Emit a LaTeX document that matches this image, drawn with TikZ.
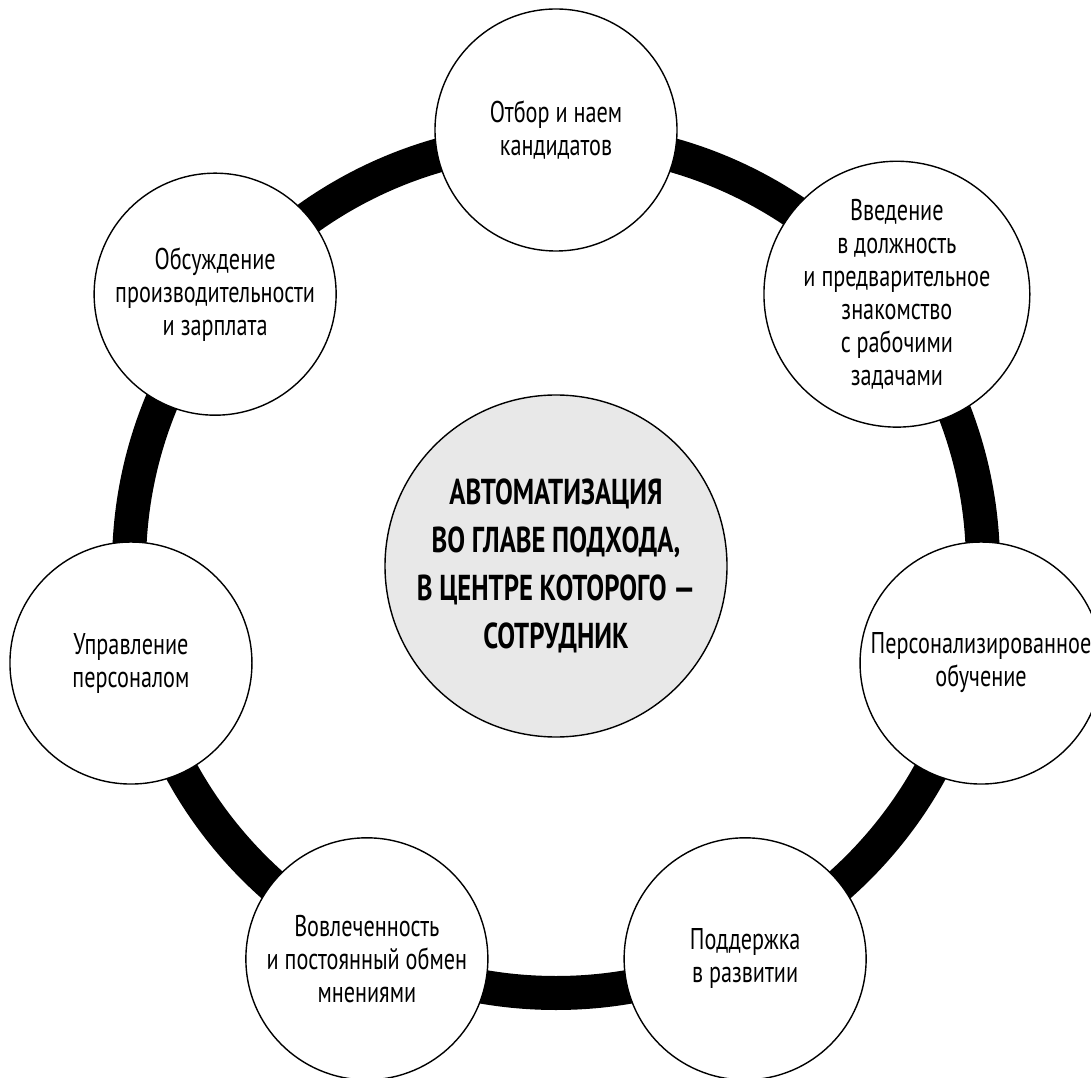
\documentclass[tikz,border=0pt]{standalone}
\usepackage{fontspec}
\setmainfont{PT Sans}[FakeStretch=0.74]
\usetikzlibrary{calc}
\definecolor{hubgray}{HTML}{E8E8E8}
\tikzset{
  stage/.style={circle, draw=black, line width=0.7pt, fill=white,
    minimum size=121pt, inner sep=0pt, align=center,
    font=\fontsize{15}{16.5}\selectfont},
  core/.style={circle, draw=black, line width=0.7pt, fill=hubgray,
    minimum size=171pt, inner sep=0pt, align=center,
    font=\bfseries\fontsize{18}{24}\selectfont},
  ring/.style={line width=17pt}
}

\begin{document}
\begin{tikzpicture}[x=0.5pt,y=0.5pt]
    \useasboundingbox (0,0) rectangle (1091,1077);
    \coordinate (hub) at (556,511);

    % ring behind the circles
    \draw[ring] (hub) circle[radius=213.5pt];

    % Define nodes
    \node[core] (auto) at (hub) {АВТОМАТИЗАЦИЯ\\ВО ГЛАВЕ ПОДХОДА,\\В ЦЕНТРЕ КОТОРОГО —\\СОТРУДНИК};
    \node[stage] (hire) at ($(hub)+(90:218pt)$) {Отбор и наем\\кандидатов};
    \node[stage] (onboard) at ($(hub)+(38.57:218pt)$) {Введение\\в должность\\и предварительное\\знакомство\\с рабочими\\задачами};
    \node[stage] (learn) at ($(hub)+(-12.86:218pt)$) {Персонализированное\\обучение};
    \node[stage] (grow) at ($(hub)+(-64.29:218pt)$) {Поддержка\\в развитии};
    \node[stage] (engage) at ($(hub)+(-115.71:218pt)$) {Вовлеченность\\и постоянный обмен\\мнениями};
    \node[stage] (manage) at ($(hub)+(-167.14:218pt)$) {Управление\\персоналом};
    \node[stage] (review) at ($(hub)+(141.43:218pt)$) {Обсуждение\\производительности\\и зарплата};
\end{tikzpicture}
\end{document}
